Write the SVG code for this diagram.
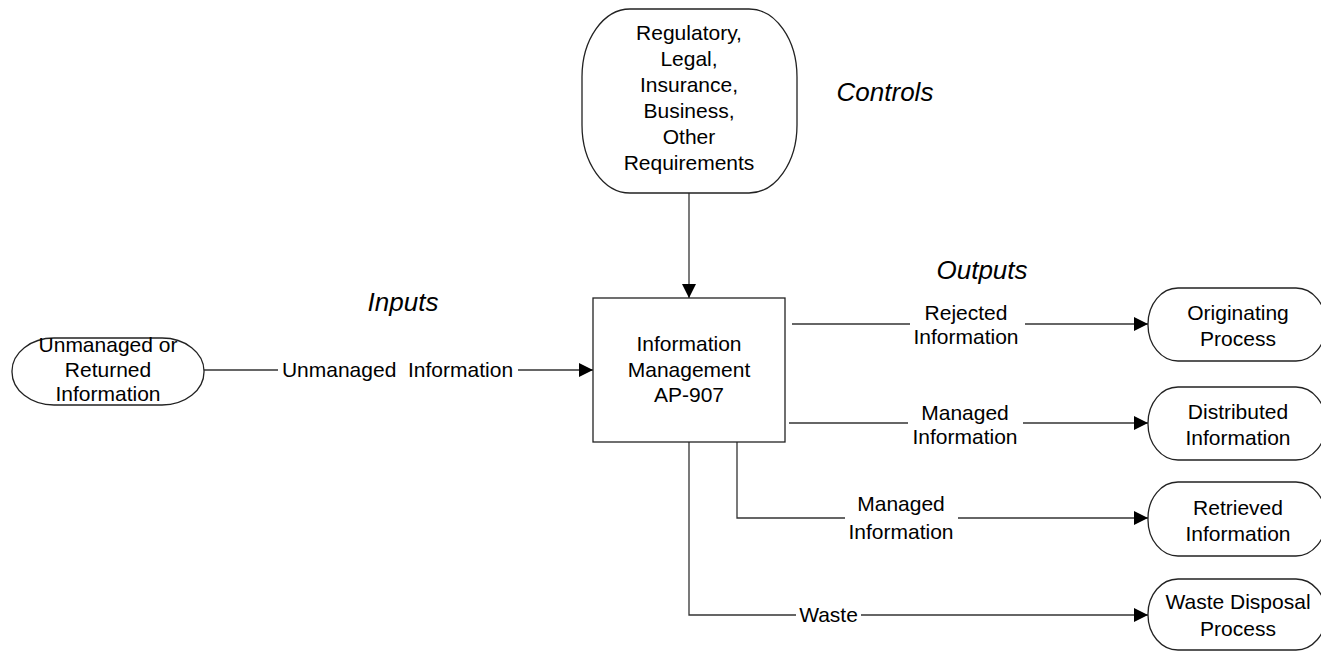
<svg xmlns="http://www.w3.org/2000/svg" width="1321" height="652" viewBox="0 0 1321 652">
<style>
.n{fill:#fff;stroke:#222;stroke-width:1.3}
.t{font-family:"Liberation Sans",Arial,sans-serif;font-size:21px;fill:#000;text-anchor:middle}
.h{font-family:"Liberation Sans",Arial,sans-serif;font-size:26px;font-style:italic;fill:#000;text-anchor:middle}
.c{fill:none;stroke:#333;stroke-width:1.3}
</style>
<defs>
<marker id="ar" markerWidth="14" markerHeight="14" refX="14" refY="7" orient="auto" markerUnits="userSpaceOnUse">
<path d="M0,0 L14,7 L0,14 Z" fill="#000"/>
</marker>
</defs>
<rect width="1321" height="652" fill="#fff"/>
<g id="connectors">
<line class="c" x1="204" y1="370" x2="278" y2="370"/>
<line class="c" x1="518" y1="370" x2="593" y2="370" marker-end="url(#ar)"/>
<line class="c" x1="689" y1="193" x2="689" y2="298" marker-end="url(#ar)"/>
<line class="c" x1="792" y1="324" x2="910" y2="324"/>
<line class="c" x1="1025" y1="324" x2="1148" y2="324" marker-end="url(#ar)"/>
<line class="c" x1="789" y1="423" x2="908" y2="423"/>
<line class="c" x1="1023" y1="423" x2="1148" y2="423" marker-end="url(#ar)"/>
<path class="c" d="M737,442 V518 H845"/>
<line class="c" x1="958" y1="518" x2="1148" y2="518" marker-end="url(#ar)"/>
<path class="c" d="M689,442 V615 H796"/>
<line class="c" x1="861" y1="615" x2="1148" y2="615" marker-end="url(#ar)"/>
<text class="t" x="397.5" y="377" xml:space="preserve">Unmanaged  Information</text>
<text class="t" x="966" y="320">Rejected</text>
<text class="t" x="966" y="344">Information</text>
<text class="t" x="965" y="420">Managed</text>
<text class="t" x="965" y="444">Information</text>
<text class="t" x="901" y="511">Managed</text>
<text class="t" x="901" y="539">Information</text>
<text class="t" x="828.5" y="622">Waste</text>
</g>
<g id="labels">
<text class="h" x="885" y="101">Controls</text>
<text class="h" x="982" y="279">Outputs</text>
<text class="h" x="403" y="311">Inputs</text>
</g>
<g id="source">
<rect class="n" x="12" y="338" width="192" height="67" rx="42" ry="33"/>
<text class="t" x="108" y="352">Unmanaged or</text>
<text class="t" x="108" y="377">Returned</text>
<text class="t" x="108" y="401">Information</text>
</g>
<g id="controls">
<rect class="n" x="582" y="9" width="215" height="184" rx="48" ry="68"/>
<text class="t" x="689" y="40">Regulatory,</text>
<text class="t" x="689" y="66">Legal,</text>
<text class="t" x="689" y="92">Insurance,</text>
<text class="t" x="689" y="118">Business,</text>
<text class="t" x="689" y="144">Other</text>
<text class="t" x="689" y="170">Requirements</text>
</g>
<g id="process">
<rect class="n" x="593" y="298" width="192" height="144"/>
<text class="t" x="689" y="351">Information</text>
<text class="t" x="689" y="377">Management</text>
<text class="t" x="689" y="402">AP-907</text>
</g>
<g id="originating">
<rect class="n" x="1148" y="288" width="178" height="73" rx="30" ry="36"/>
<text class="t" x="1238" y="320">Originating</text>
<text class="t" x="1238" y="346">Process</text>
</g>
<g id="distributed">
<rect class="n" x="1148" y="387" width="178" height="73" rx="30" ry="36"/>
<text class="t" x="1238" y="419">Distributed</text>
<text class="t" x="1238" y="445">Information</text>
</g>
<g id="retrieved">
<rect class="n" x="1148" y="482" width="178" height="74" rx="30" ry="36"/>
<text class="t" x="1238" y="515">Retrieved</text>
<text class="t" x="1238" y="541">Information</text>
</g>
<g id="waste">
<rect class="n" x="1148" y="579" width="178" height="71" rx="30" ry="35"/>
<text class="t" x="1238" y="609">Waste Disposal</text>
<text class="t" x="1238" y="636">Process</text>
</g>
</svg>
